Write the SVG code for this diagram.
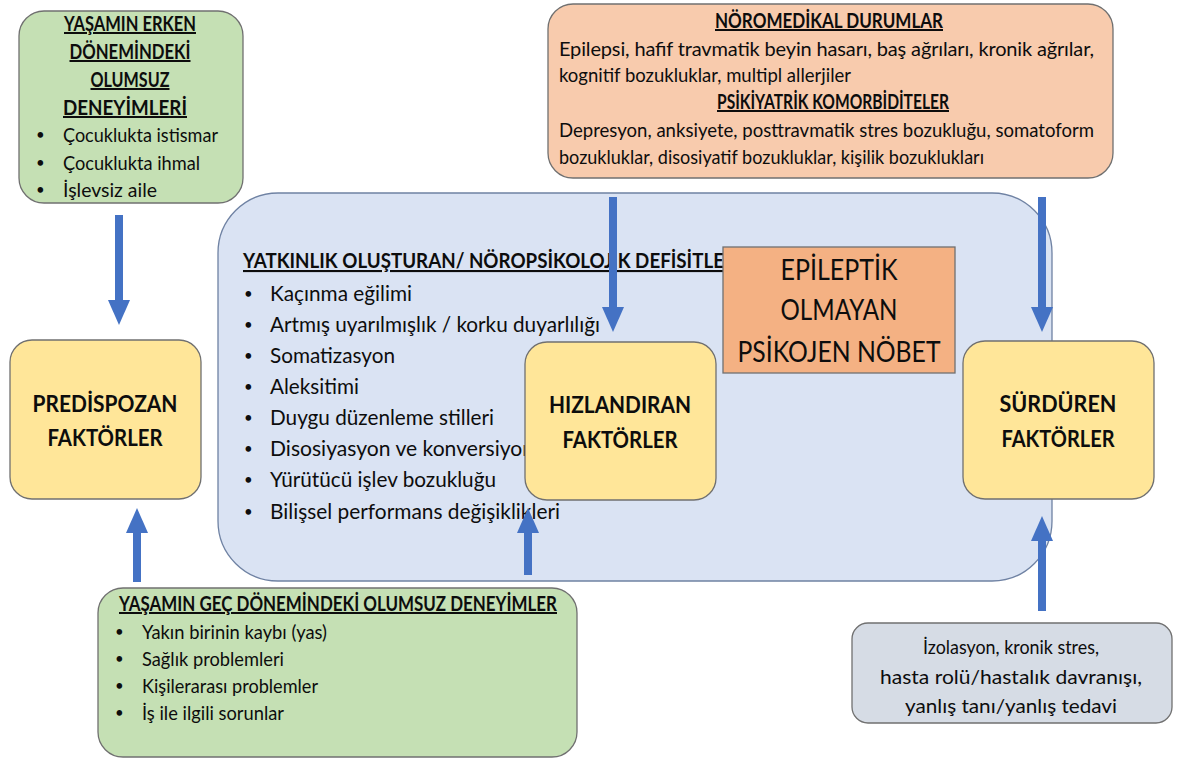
<svg xmlns="http://www.w3.org/2000/svg" width="1180" height="761" viewBox="0 0 1180 761">
<style>
text{font-family:Lato,"Liberation Sans","DejaVu Sans",sans-serif;fill:#0d0d0d;}
.b{font-weight:bold;}
.u{text-decoration:underline;}
.c{text-anchor:middle;}
.dot{font-size:15px;}
.box{stroke:#707070;stroke-width:1.3;}
.green{fill:#c5e0b4;}
.peach{fill:#f8cbad;}
.blue{fill:#dae3f3;stroke:#6f82a3;stroke-width:1.3;}
.yellow{fill:#ffe699;}
.orange{fill:#f4b183;}
.grey{fill:#d6dce5;}
.t19{font-size:20px;}
.t20{font-size:21px;}
.t18{font-size:19px;}
.t22{font-size:23px;}
.t27{font-size:28px;}
.arrow{stroke:#4472c4;stroke-width:8;fill:none;}
</style>
<defs>
<marker id="head" markerUnits="userSpaceOnUse" markerWidth="25" markerHeight="22" viewBox="0 0 25 22" refX="0" refY="11" orient="auto">
<path d="M0,0 L25,11 L0,22 Z" fill="#4472c4"/>
</marker>
</defs>
<rect width="1180" height="761" fill="#ffffff"/>

<g id="yatkinlik">
<rect class="blue" x="218" y="193" width="834" height="388" rx="60" ry="60"/>
<text class="b u t20" x="243" y="268" textLength="493" lengthAdjust="spacingAndGlyphs">YATKINLIK OLUŞTURAN/ NÖROPSİKOLOJİK DEFİSİTLER</text>
<g class="t20">
<text class="dot" x="244" y="299">•</text><text x="270" y="301" textLength="142" lengthAdjust="spacingAndGlyphs">Kaçınma eğilimi</text>
<text class="dot" x="244" y="330">•</text><text x="270" y="332" textLength="330" lengthAdjust="spacingAndGlyphs">Artmış uyarılmışlık / korku duyarlılığı</text>
<text class="dot" x="244" y="361">•</text><text x="270" y="363" textLength="125" lengthAdjust="spacingAndGlyphs">Somatizasyon</text>
<text class="dot" x="244" y="392">•</text><text x="270" y="394" textLength="89" lengthAdjust="spacingAndGlyphs">Aleksitimi</text>
<text class="dot" x="244" y="423">•</text><text x="270" y="425" textLength="224" lengthAdjust="spacingAndGlyphs">Duygu düzenleme stilleri</text>
<text class="dot" x="244" y="454">•</text><text x="270" y="456" textLength="264" lengthAdjust="spacingAndGlyphs">Disosiyasyon ve konversiyon</text>
<text class="dot" x="244" y="485">•</text><text x="270" y="487" textLength="226" lengthAdjust="spacingAndGlyphs">Yürütücü işlev bozukluğu</text>
<text class="dot" x="244" y="517">•</text><text x="270" y="519" textLength="290" lengthAdjust="spacingAndGlyphs">Bilişsel performans değişiklikleri</text>
</g>
</g>

<g id="hizlandiran">
<rect class="box yellow" x="525" y="342" width="191" height="158" rx="22" ry="22"/>
<text class="b c t22" x="620" y="413" textLength="142" lengthAdjust="spacingAndGlyphs">HIZLANDIRAN</text>
<text class="b c t22" x="620" y="448" textLength="115" lengthAdjust="spacingAndGlyphs">FAKTÖRLER</text>
</g>

<g id="pnes">
<rect class="box orange" x="723" y="247" width="232" height="126"/>
<text class="c t27" x="839" y="280" textLength="117" lengthAdjust="spacingAndGlyphs">EPİLEPTİK</text>
<text class="c t27" x="839" y="320" textLength="117" lengthAdjust="spacingAndGlyphs">OLMAYAN</text>
<text class="c t27" x="839" y="362" textLength="203" lengthAdjust="spacingAndGlyphs">PSİKOJEN NÖBET</text>
</g>

<g id="erken">
<rect class="box green" x="19" y="11" width="224" height="192" rx="25" ry="25"/>
<text class="b u c t19" x="130" y="31" textLength="132" lengthAdjust="spacingAndGlyphs">YAŞAMIN ERKEN</text>
<text class="b u c t19" x="130" y="59" textLength="121" lengthAdjust="spacingAndGlyphs">DÖNEMİNDEKİ</text>
<text class="b u c t19" x="130" y="87" textLength="79" lengthAdjust="spacingAndGlyphs">OLUMSUZ</text>
<text class="b u c t19" x="125" y="115" textLength="124" lengthAdjust="spacingAndGlyphs">DENEYİMLERİ</text>
<g class="t19">
<text class="dot" x="36" y="140">•</text><text x="63" y="142" textLength="155" lengthAdjust="spacingAndGlyphs">Çocuklukta istismar</text>
<text class="dot" x="36" y="168">•</text><text x="63" y="170" textLength="137" lengthAdjust="spacingAndGlyphs">Çocuklukta ihmal</text>
<text class="dot" x="36" y="195">•</text><text x="63" y="197" textLength="94" lengthAdjust="spacingAndGlyphs">İşlevsiz aile</text>
</g>
</g>

<g id="noromedikal">
<rect class="box peach" x="548" y="4" width="565" height="174" rx="25" ry="25"/>
<text class="b u c t19" x="829" y="28" textLength="228" lengthAdjust="spacingAndGlyphs">NÖROMEDİKAL DURUMLAR</text>
<text class="t19" x="559" y="56" textLength="535" lengthAdjust="spacing">Epilepsi, hafif travmatik beyin hasarı, baş ağrıları, kronik ağrılar,</text>
<text class="t19" x="559" y="82" textLength="292" lengthAdjust="spacingAndGlyphs">kognitif bozukluklar, multipl allerjiler</text>
<text class="b u c t19" x="833" y="109" textLength="232" lengthAdjust="spacingAndGlyphs">PSİKİYATRİK KOMORBİDİTELER</text>
<text class="t19" x="559" y="137" textLength="535" lengthAdjust="spacingAndGlyphs">Depresyon, anksiyete, posttravmatik stres bozukluğu, somatoform</text>
<text class="t19" x="559" y="164" textLength="425" lengthAdjust="spacingAndGlyphs">bozukluklar, disosiyatif bozukluklar, kişilik bozuklukları</text>
</g>

<g id="predispozan">
<rect class="box yellow" x="10" y="340" width="191" height="159" rx="22" ry="22"/>
<text class="b c t22" x="105" y="412" textLength="145" lengthAdjust="spacingAndGlyphs">PREDİSPOZAN</text>
<text class="b c t22" x="105" y="446" textLength="115" lengthAdjust="spacingAndGlyphs">FAKTÖRLER</text>
</g>

<g id="surduren">
<rect class="box yellow" x="963" y="341" width="191" height="158" rx="22" ry="22"/>
<text class="b c t22" x="1058" y="412" textLength="117" lengthAdjust="spacingAndGlyphs">SÜRDÜREN</text>
<text class="b c t22" x="1058" y="447" textLength="113" lengthAdjust="spacingAndGlyphs">FAKTÖRLER</text>
</g>

<g id="gec">
<rect class="box green" x="98" y="588" width="479" height="169" rx="25" ry="25"/>
<text class="b u t19" x="119" y="611" textLength="438" lengthAdjust="spacingAndGlyphs">YAŞAMIN GEÇ DÖNEMİNDEKİ  OLUMSUZ DENEYİMLER</text>
<g class="t18">
<text class="dot" x="115" y="637">•</text><text x="142" y="639" textLength="185" lengthAdjust="spacingAndGlyphs">Yakın birinin kaybı (yas)</text>
<text class="dot" x="115" y="664">•</text><text x="142" y="666" textLength="142" lengthAdjust="spacingAndGlyphs">Sağlık problemleri</text>
<text class="dot" x="115" y="691">•</text><text x="142" y="693" textLength="176" lengthAdjust="spacingAndGlyphs">Kişilerarası problemler</text>
<text class="dot" x="115" y="718">•</text><text x="142" y="720" textLength="142" lengthAdjust="spacingAndGlyphs">İş ile ilgili sorunlar</text>
</g>
</g>

<g id="izolasyon">
<rect class="box grey" x="852" y="623" width="320" height="100" rx="16" ry="16"/>
<text class="c t19" x="1011" y="654" textLength="176" lengthAdjust="spacingAndGlyphs">İzolasyon, kronik stres,</text>
<text class="c t19" x="1011" y="684" textLength="262" lengthAdjust="spacingAndGlyphs">hasta rolü/hastalık davranışı,</text>
<text class="c t19" x="1011" y="713" textLength="212" lengthAdjust="spacingAndGlyphs">yanlış tanı/yanlış tedavi</text>
</g>

<g id="connectors">
<line class="arrow" x1="119" y1="215" x2="119" y2="300" marker-end="url(#head)"/>
<line class="arrow" x1="137" y1="582" x2="137" y2="533" marker-end="url(#head)"/>
<line class="arrow" x1="613" y1="197" x2="613" y2="307" marker-end="url(#head)"/>
<line class="arrow" x1="1042" y1="197" x2="1042" y2="307" marker-end="url(#head)"/>
<line class="arrow" x1="528" y1="575" x2="528" y2="533" marker-end="url(#head)"/>
<line class="arrow" x1="1042" y1="611" x2="1042" y2="541" marker-end="url(#head)"/>
</g>
</svg>
